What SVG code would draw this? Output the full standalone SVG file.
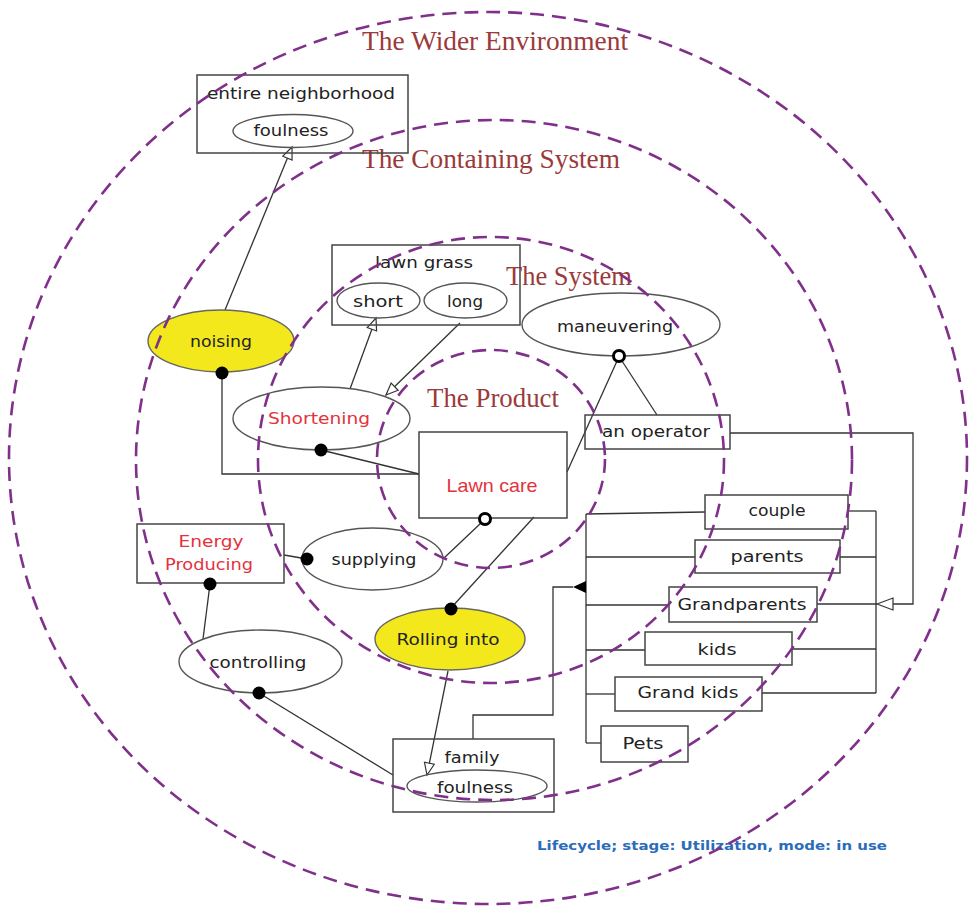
<svg xmlns="http://www.w3.org/2000/svg" width="969" height="906" viewBox="0 0 969 906">
  <defs>
    <style>
      .box { fill: none; stroke: #444; stroke-width: 1.5; }
      .obj { fill: none; stroke: #555; stroke-width: 1.4; }
      .hot { fill: #f2e81c; stroke: #666; stroke-width: 1.4; }
      .t { font-family: "DejaVu Sans", "Liberation Sans", sans-serif; font-size: 16px; fill: #222; text-anchor: middle; }
      .red { fill: #e3323c; }
      .scope { fill: none; stroke: #80308a; stroke-width: 2.6; stroke-dasharray: 14 8; }
      .scope-label { font-family: "Liberation Serif", "DejaVu Serif", serif; font-size: 26.5px; fill: #9b3a3a; }
      .link { fill: none; stroke: #333; stroke-width: 1.3; }
      .dot { fill: #000; }
      .ring { fill: #fff; stroke: #000; stroke-width: 3; }
      .tri { fill: #fff; stroke: #333; stroke-width: 1.2; }
      .note { font-family: "DejaVu Sans", "Liberation Sans", sans-serif; font-size: 12.5px; font-weight: bold; fill: #2a6cbc; text-anchor: middle; }
    </style>
    <marker id="hollow" markerWidth="16" markerHeight="14" refX="13" refY="6" orient="auto" markerUnits="userSpaceOnUse">
      <path d="M1,1 L13,6 L1,11 z" fill="#fff" stroke="#333" stroke-width="1.2"/>
    </marker>
  </defs>

  <rect width="969" height="906" fill="#fff"/>

  <!-- scope labels -->
  <g id="scope-labels">
    <text class="scope-label" x="362" y="50" textLength="266" lengthAdjust="spacingAndGlyphs">The Wider Environment</text>
    <text class="scope-label" x="362" y="168" textLength="258" lengthAdjust="spacingAndGlyphs">The Containing System</text>
    <text class="scope-label" x="506" y="285" textLength="126" lengthAdjust="spacingAndGlyphs">The System</text>
    <text class="scope-label" x="427" y="407" textLength="132" lengthAdjust="spacingAndGlyphs">The Product</text>
  </g>

  <!-- connectors -->
  <g id="connectors">
    <!-- noising -> neighborhood foulness -->
    <line class="link" x1="225" y1="310" x2="292" y2="147" marker-end="url(#hollow)"/>
    <!-- Shortening -> short -->
    <line class="link" x1="350" y1="389" x2="376" y2="318" marker-end="url(#hollow)"/>
    <!-- long -> Shortening -->
    <line class="link" x1="460" y1="323" x2="386" y2="395" marker-end="url(#hollow)"/>
    <!-- noising agent link to Lawn care -->
    <polyline class="link" points="222,373 222,474 419,474"/>
    <!-- Shortening to Lawn care -->
    <line class="link" x1="321" y1="450" x2="419" y2="474"/>
    <!-- maneuvering links -->
    <line class="link" x1="617" y1="361" x2="567" y2="472"/>
    <line class="link" x1="622" y1="361" x2="657" y2="415"/>
    <!-- operator generalisation -->
    <polyline class="link" points="730,433 913,433 913,604 893,604"/>
    <polygon class="tri" points="877,604 893,598 893,610"/>
    <!-- right bus -->
    <line class="link" x1="876" y1="511" x2="876" y2="693"/>
    <line class="link" x1="848" y1="511" x2="876" y2="511"/>
    <line class="link" x1="840" y1="557" x2="876" y2="557"/>
    <line class="link" x1="817" y1="604" x2="877" y2="604"/>
    <line class="link" x1="792" y1="649" x2="876" y2="649"/>
    <line class="link" x1="762" y1="693" x2="876" y2="693"/>
    <!-- left bus -->
    <line class="link" x1="586" y1="514" x2="586" y2="743"/>
    <line class="link" x1="586" y1="514" x2="705" y2="512"/>
    <line class="link" x1="586" y1="557" x2="695" y2="557"/>
    <line class="link" x1="586" y1="605" x2="669" y2="605"/>
    <line class="link" x1="586" y1="650" x2="645" y2="650"/>
    <line class="link" x1="586" y1="694" x2="615" y2="694"/>
    <line class="link" x1="586" y1="743" x2="601" y2="743"/>
    <!-- family aggregation -->
    <polyline class="link" points="473,739 473,715 553,715 553,587 573,587"/>
    <polygon points="573,587 586,581 586,593" fill="#000"/>
    <!-- Lawn care instrument/effect links -->
    <line class="link" x1="481" y1="523" x2="444" y2="558"/>
    <line class="link" x1="534" y1="517" x2="451" y2="608"/>
    <!-- Rolling into -> family foulness -->
    <line class="link" x1="448" y1="671" x2="427" y2="775" marker-end="url(#hollow)"/>
    <!-- supplying / energy / controlling -->
    <line class="link" x1="307" y1="559" x2="284" y2="555"/>
    <line class="link" x1="210" y1="584" x2="203" y2="639"/>
    <line class="link" x1="259" y1="693" x2="393" y2="775"/>
  </g>

  <!-- nodes -->
  <g id="entire-neighborhood">
    <rect class="box" x="197" y="75" width="211" height="78"/>
    <text class="t" x="301" y="99" textLength="188" lengthAdjust="spacingAndGlyphs">entire neighborhood</text>
    <ellipse class="obj" cx="293" cy="131" rx="60" ry="16.5"/>
    <text class="t" x="291" y="136" textLength="75" lengthAdjust="spacingAndGlyphs">foulness</text>
  </g>

  <g id="lawn-grass">
    <rect class="box" x="332" y="245" width="188" height="80"/>
    <text class="t" x="424" y="268" textLength="98" lengthAdjust="spacingAndGlyphs">lawn grass</text>
    <ellipse class="obj" cx="378.5" cy="300.5" rx="41.5" ry="17.5"/>
    <text class="t" x="378" y="307" textLength="50" lengthAdjust="spacingAndGlyphs">short</text>
    <ellipse class="obj" cx="465.5" cy="300.5" rx="41.5" ry="17.5"/>
    <text class="t" x="465" y="307" textLength="36" lengthAdjust="spacingAndGlyphs">long</text>
  </g>

  <g id="maneuvering">
    <ellipse class="obj" cx="621" cy="324.5" rx="99" ry="31.5"/>
    <text class="t" x="615" y="332" textLength="116" lengthAdjust="spacingAndGlyphs">maneuvering</text>
    <circle class="ring" cx="619" cy="356" r="5.5"/>
  </g>

  <g id="operator">
    <rect class="box" x="585" y="415" width="145" height="34"/>
    <text class="t" x="656" y="437" textLength="108" lengthAdjust="spacingAndGlyphs">an operator</text>
  </g>

  <g id="noising">
    <ellipse class="hot" cx="221" cy="341" rx="73" ry="31"/>
    <text class="t" x="221" y="347" textLength="62" lengthAdjust="spacingAndGlyphs">noising</text>
    <circle class="dot" cx="222" cy="373" r="6.5"/>
  </g>

  <g id="shortening">
    <ellipse class="obj" cx="321.5" cy="418.5" rx="88.5" ry="31.5"/>
    <text class="t red" x="319" y="424" textLength="102" lengthAdjust="spacingAndGlyphs">Shortening</text>
    <circle class="dot" cx="321" cy="450" r="6.5"/>
  </g>

  <g id="lawn-care">
    <rect class="box" x="419" y="432" width="148" height="86"/>
    <text x="492" y="492" font-family="Liberation Sans, Arial, sans-serif" font-size="19" fill="#e3323c" text-anchor="middle" textLength="91" lengthAdjust="spacingAndGlyphs">Lawn care</text>
    <circle class="ring" cx="485" cy="519" r="5.5"/>
  </g>

  <g id="energy-producing">
    <rect class="box" x="137" y="524" width="147" height="59"/>
    <text class="t red" x="211" y="547" textLength="65" lengthAdjust="spacingAndGlyphs">Energy</text>
    <text class="t red" x="209" y="570" textLength="88" lengthAdjust="spacingAndGlyphs">Producing</text>
    <circle class="dot" cx="210" cy="584" r="6.5"/>
  </g>

  <g id="supplying">
    <ellipse class="obj" cx="372.5" cy="559" rx="70.5" ry="31"/>
    <text class="t" x="374" y="565" textLength="85" lengthAdjust="spacingAndGlyphs">supplying</text>
    <circle class="dot" cx="307" cy="559" r="6.5"/>
  </g>

  <g id="controlling">
    <ellipse class="obj" cx="260.5" cy="661.5" rx="81.5" ry="31.5"/>
    <text class="t" x="258" y="668" textLength="97" lengthAdjust="spacingAndGlyphs">controlling</text>
    <circle class="dot" cx="259" cy="693" r="6.5"/>
  </g>

  <g id="rolling-into">
    <ellipse class="hot" cx="450" cy="639" rx="75" ry="31"/>
    <text class="t" x="448" y="645" textLength="103" lengthAdjust="spacingAndGlyphs">Rolling into</text>
    <circle class="dot" cx="451" cy="609" r="6.5"/>
  </g>

  <g id="family">
    <rect class="box" x="393" y="739" width="161" height="73"/>
    <text class="t" x="472" y="763" textLength="55" lengthAdjust="spacingAndGlyphs">family</text>
    <ellipse class="obj" cx="477" cy="786" rx="70" ry="16"/>
    <text class="t" x="475" y="793" textLength="76" lengthAdjust="spacingAndGlyphs">foulness</text>
  </g>

  <g id="couple">
    <rect class="box" x="705" y="495" width="143" height="34"/>
    <text class="t" x="777" y="516" textLength="57" lengthAdjust="spacingAndGlyphs">couple</text>
  </g>
  <g id="parents">
    <rect class="box" x="695" y="540" width="145" height="33"/>
    <text class="t" x="767" y="562" textLength="73" lengthAdjust="spacingAndGlyphs">parents</text>
  </g>
  <g id="grandparents">
    <rect class="box" x="669" y="587" width="148" height="35"/>
    <text class="t" x="742" y="610" textLength="129" lengthAdjust="spacingAndGlyphs">Grandparents</text>
  </g>
  <g id="kids">
    <rect class="box" x="645" y="632" width="147" height="33"/>
    <text class="t" x="717" y="655" textLength="39" lengthAdjust="spacingAndGlyphs">kids</text>
  </g>
  <g id="grand-kids">
    <rect class="box" x="615" y="677" width="147" height="34"/>
    <text class="t" x="688" y="698" textLength="101" lengthAdjust="spacingAndGlyphs">Grand kids</text>
  </g>
  <g id="pets">
    <rect class="box" x="601" y="726" width="87" height="36"/>
    <text class="t" x="643" y="749" textLength="41" lengthAdjust="spacingAndGlyphs">Pets</text>
  </g>

  <!-- lifecycle note -->
  <text class="note" x="712" y="850" textLength="350" lengthAdjust="spacingAndGlyphs">Lifecycle; stage: Utilization, mode: in use</text>

  <!-- nested scope boundaries -->
  <g id="scopes">
    <ellipse class="scope" cx="488" cy="458" rx="479" ry="446"/>
    <ellipse class="scope" cx="494" cy="460" rx="358" ry="340"/>
    <ellipse class="scope" cx="491" cy="460" rx="233" ry="223"/>
    <ellipse class="scope" cx="491" cy="459" rx="114" ry="109"/>
  </g>
</svg>
